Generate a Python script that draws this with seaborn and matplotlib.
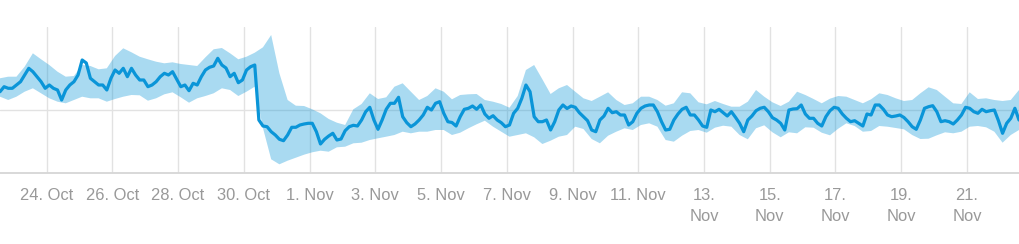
import numpy as np
import pandas as pd
import matplotlib
matplotlib.use("Agg")
import matplotlib.pyplot as plt
import seaborn as sns

# ---- data (unit: arbitrary index, gridline at 63) ----
start_time = "2018-10-22 14:00"
line_step = "3h"
band_step = "6h"

line_values = [
    81.3, 86.3, 84.7, 84.7, 88, 91.3, 98, 104.7, 101.3, 96.3,
    91.3, 84.7, 88, 84.7, 83, 73, 83, 88, 91.3, 98,
    113, 110, 94.7, 91.3, 88, 88, 83, 94.7, 103, 99.7,
    104.7, 96.3, 104.7, 98, 93, 93, 86.3, 88, 91.3, 96.3,
    99.7, 98, 101.3, 93.7, 86.3, 88, 82.3, 89.7, 88, 96.3,
    103, 105.7, 107, 114.7, 108, 105, 96.3, 99.7, 90.3, 93,
    103, 106.3, 108, 53, 47, 46.3, 41.3, 38, 33.7, 32.3,
    38, 45.7, 45.7, 48, 49, 49.7, 49.7, 41.3, 29, 33.7,
    37, 39.7, 33, 34, 42.3, 46.3, 47.7, 47, 53, 61.3,
    65.7, 53, 43.7, 53, 63.7, 69.7, 69.7, 75.7, 56.3, 50.3,
    46.3, 49, 53, 58, 65.7, 63, 69.7, 71.3, 59.7, 51.3,
    50.5, 47, 56.3, 63.7, 64.7, 67, 63.7, 68, 59, 54.7,
    57.3, 53, 50.3, 46.3, 48, 59.7, 64.7, 74.7, 88, 81.3,
    56.3, 51.3, 51.3, 53, 43, 51.3, 63, 68, 64.5, 67,
    65.7, 60.3, 56.3, 52.3, 43, 41.3, 53, 57, 64.7, 60.3,
    61.3, 58, 58, 48, 51.3, 59.7, 64.7, 67, 68, 68,
    61.3, 51.3, 43, 43.7, 53, 59, 63.7, 65.7, 58, 58,
    53, 47, 45.7, 63, 61.3, 63.7, 60.3, 57, 61.3, 55.7,
    49.7, 41.3, 53, 57, 62.3, 64.7, 65.7, 61.3, 55.3, 53,
    49.7, 43, 63, 64, 64.3, 68, 59, 54.7, 54.7, 49.7,
    47, 56.3, 62.3, 65.7, 64.7, 59, 54.7, 51.3, 52.3, 49.7,
    47, 59, 58, 68, 68, 63.7, 58, 56.3, 57, 58,
    55.5, 51.3, 46.3, 43.7, 53, 64.7, 66.3, 67.3, 61.3, 51.3,
    52.3, 51.3, 49, 53, 58, 65.7, 64.7, 61.3, 59.7, 63.7,
    61.3, 62.3, 63, 52.3, 39.7, 49.7, 54.7, 64.7, 53,
]

band_upper = [
    94.7, 96.3, 96.3, 106.3, 119.7, 113.7, 108, 101.3, 96.3, 97, 108, 107, 103.7, 104.7,
    117, 124.7, 120.7, 116.3, 113.7, 111.3, 109.7, 110.7, 109, 108, 107, 115.7, 123.7, 125,
    119.7, 113.7, 116.3, 120.3, 125.7, 138, 99.7, 73, 67.3, 67, 63.7, 59.7, 54, 50.3,
    48, 63.7, 69, 79.7, 74, 75.7, 86.3, 89.7, 81.3, 73, 77, 84.7, 81.3, 73.7,
    78, 78.7, 79, 73, 71.3, 69, 65.3, 77, 103, 108, 93.7, 79, 84.7, 88,
    81.3, 74.7, 72, 76.3, 80.7, 73, 68, 69.7, 76.3, 76.3, 73, 67.3, 69.7,
    80.7, 79.7, 70.7, 68.7, 72, 69, 66.3, 66.3, 71.3, 83, 76.3, 70.7, 67, 71.3,
    81.3, 78, 74, 69.7, 74.3, 77, 76.3, 73, 69.7, 73.7, 79.7, 78, 74.7, 72,
    73, 79.7, 85.7, 83, 76.3, 69.7, 69, 80.7, 74, 74.7, 73, 72, 73, 83,
]

band_lower = [
    76.3, 73, 76.3, 81.3, 84.7, 79.7, 74.7, 71.3, 69.7, 73, 76.3, 74.7, 74.7, 71.3,
    74, 76.3, 78, 77.7, 72.3, 74.7, 78.7, 80.7, 75.7, 70.3, 74.7, 77, 79.7, 84.7,
    83, 77, 81.3, 86.3, 45, 13.7, 8.7, 12.3, 15.3, 18.3, 20.7, 22.3, 21.3, 25.7,
    26.3, 29.7, 30.3, 33, 34.7, 36.3, 38, 41.3, 39.7, 41.3, 41.3, 43, 43, 38,
    40.3, 44.7, 48.7, 52.3, 46.3, 41.3, 36.3, 38, 39.7, 35.7, 29, 32.3, 36.3, 38,
    46.3, 44, 34, 29.7, 37.3, 41.3, 44.7, 43, 48, 49.7, 46.3, 33, 31.3,
    37.3, 42, 43, 40.3, 45.3, 47.3, 46.3, 38, 33.7, 44.7, 47.7, 40.7, 35.7, 40.7,
    39.7, 45.7, 45.3, 40.3, 37.7, 44.3, 49.7, 47, 41.3, 42, 47, 46.3, 45, 43.7,
    38, 34, 34.3, 37.7, 40.7, 39.7, 41.3, 46.3, 47, 45.7, 41.3, 30.3, 38, 43,
]

tick_dates = ["2018-10-24", "2018-10-26", "2018-10-28", "2018-10-30", "2018-11-01",
              "2018-11-03", "2018-11-05", "2018-11-07", "2018-11-09", "2018-11-11",
              "2018-11-13", "2018-11-15", "2018-11-17", "2018-11-19", "2018-11-21"]
tick_labels = ["24. Oct", "26. Oct", "28. Oct", "30. Oct", "1. Nov",
               "3. Nov", "5. Nov", "7. Nov", "9. Nov", "11. Nov",
               "13.\nNov", "15.\nNov", "17.\nNov", "19.\nNov", "21.\nNov"]
grid_value = 63

# ---- style ----
sns.set_style("white")
plt.rcParams["font.family"] = ["Liberation Sans", "DejaVu Sans"]

LINE = "#0a95d8"
GRID = "#e2e2e2"

line_time = pd.date_range(start_time, periods=len(line_values), freq=line_step)
band_time = pd.date_range(start_time, periods=len(band_upper), freq=band_step)
df = pd.DataFrame({"time": line_time, "value": line_values})

fig = plt.figure(figsize=(10.19, 2.44), dpi=100)
ax = fig.add_axes([0, 71 / 244, 1, 146 / 244])

ax.fill_between(band_time, band_lower, band_upper, color=LINE, alpha=0.35,
                linewidth=0, zorder=2)
sns.lineplot(data=df, x="time", y="value", ax=ax, color=LINE, linewidth=2.3,
             zorder=3)

ax.set_xlim(line_time[0], line_time[-1])
ax.set_ylim(0, 146)

ax.set_yticks([grid_value])
ax.set_xticks(pd.to_datetime(tick_dates))
ax.set_xticklabels(tick_labels)
for lbl in ax.get_xticklabels():
    lbl.set_linespacing(1.5)

ax.grid(True, axis="both", color=GRID, linewidth=1.0)
ax.set_axisbelow(True)
ax.set_xlabel("")
ax.set_ylabel("")

ax.tick_params(axis="x", length=0, pad=11, labelsize=11.9, labelcolor="#999999")
ax.tick_params(axis="y", length=0, labelleft=False)

for s in ["top", "left", "right"]:
    ax.spines[s].set_visible(False)
ax.spines["bottom"].set_color("#d6d6d6")
ax.spines["bottom"].set_linewidth(1.3)

fig.savefig("out.png", dpi=100)
